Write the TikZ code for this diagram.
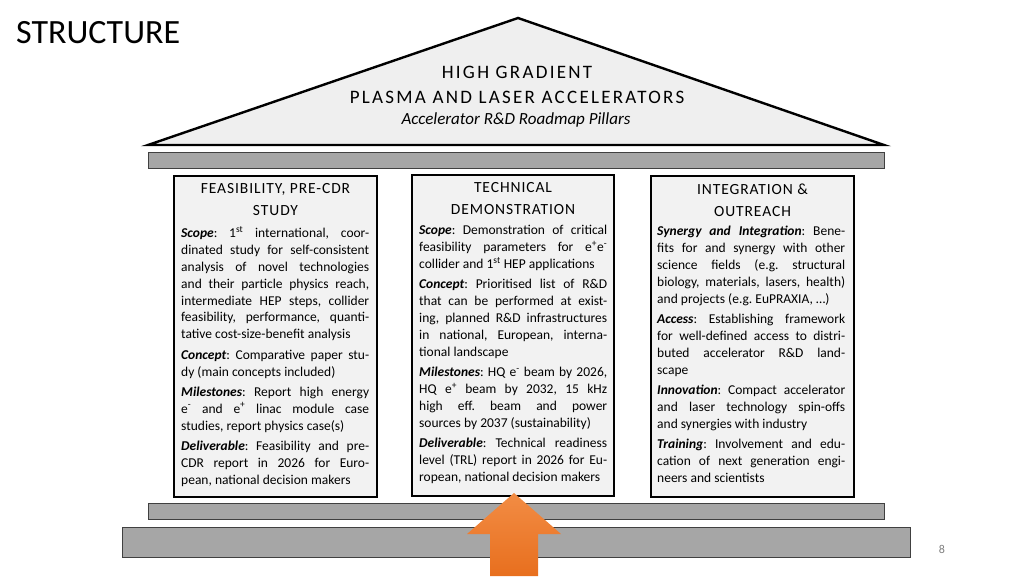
\documentclass[tikz,border=0pt]{standalone}
\usepackage{fontspec}
\setmainfont{Carlito}
\newfontfamily\deco[LetterSpace=6]{Carlito}
\newfontfamily\decoroof[LetterSpace=12]{Carlito}
\definecolor{beamgray}{HTML}{A6A6A6}
\definecolor{colfill}{HTML}{F2F2F2}
\definecolor{rooffill}{HTML}{EFEFEF}
\definecolor{arrowtop}{HTML}{F28C44}
\definecolor{arrowbot}{HTML}{E86F1E}
\newcommand{\np}{\par\vspace{3.4pt}}
\newcommand{\kw}[1]{\textbf{\textit{#1}}}
\newcommand{\bodyset}{\tolerance=10000 \hyphenpenalty=10000 \exhyphenpenalty=10000
  \rightskip=0pt \leftskip=0pt \parfillskip=0pt plus 1fil \parindent=0pt \frenchspacing
  \spaceskip=0.23em plus 0.6em minus 0.13em\relax}
\begin{document}
\begin{tikzpicture}[x=1pt,y=-1pt,
  beam/.style={draw=black!75, line width=0.9pt, fill=beamgray},
  pillar/.style={draw=black, line width=2pt, fill=colfill},
  head/.style={align=center, inner sep=0pt, font=\deco\fontsize{15.5}{22}\selectfont},
  rooftext/.style={align=center, inner sep=0pt, font=\decoroof\fontsize{19}{25}\selectfont},
  body/.style={anchor=north west, inner sep=0pt, text width=188pt,
    font=\fontsize{13.5}{16.9}\selectfont}
]
\useasboundingbox (0,0) rectangle (1024,576);
\fill[white] (0,0) rectangle (1024,576);

% title
\node[anchor=west, inner sep=0pt, font=\fontsize{34}{40}\selectfont] (title) at (16,33) {STRUCTURE};

% roof
\draw[line width=2.4pt, fill=rooffill, line join=miter] (148,145) -- (518,18) -- (884,145) -- cycle;
\node[rooftext] (roof1) at (517,72) {HIGH GRADIENT};
\node[rooftext] (roof2) at (517,97) {PLASMA AND LASER ACCELERATORS};
\node[inner sep=0pt, font=\fontsize{17}{20}\selectfont\itshape] (roof3) at (516,120) {Accelerator R\&D Roadmap Pillars};

% beams
\draw[beam] (148,152) rectangle (884,168);
\draw[beam] (148,503) rectangle (884,519);
\draw[beam] (122,527) rectangle (910,557);

% pillars
\draw[pillar] (174,176) rectangle (377,497);
\draw[pillar] (412,175) rectangle (614,496);
\draw[pillar] (651,176) rectangle (854,497);

% headings
\node[head] (h1) at (275.5,200) {FEASIBILITY, PRE-CDR\\STUDY};
\node[head] (h2) at (513,199) {TECHNICAL\\DEMONSTRATION};
\node[head] (h3) at (752.5,200) {INTEGRATION \&\\OUTREACH};

% bodies
\node[body] (b1) at (181,226) {\bodyset
\kw{Scope}: 1\textsuperscript{st} international, coor-\linebreak
dinated study for self-consistent\linebreak
analysis of novel technologies\linebreak
and their particle physics reach,\linebreak
intermediate HEP steps, collider\linebreak
feasibility, performance, quanti-\linebreak
tative cost-size-benefit analysis\np
\kw{Concept}: Comparative paper stu-\linebreak
dy (main concepts included)\np
\kw{Milestones}: Report high energy\linebreak
e\textsuperscript{-} and e\textsuperscript{+} linac module case\linebreak
studies, report physics case(s)\np
\kw{Deliverable}: Feasibility and pre-\linebreak
CDR report in 2026 for Euro-\linebreak
pean, national decision makers\par};

\node[body] (b2) at (419,225) {\bodyset
\kw{Scope}: Demonstration of critical\linebreak
feasibility parameters for e\textsuperscript{+}e\textsuperscript{-}\linebreak
collider and 1\textsuperscript{st} HEP applications\np
\kw{Concept}: Prioritised list of R\&D\linebreak
that can be performed at exist-\linebreak
ing, planned R\&D infrastructures\linebreak
in national, European, interna-\linebreak
tional landscape\np
\kw{Milestones}: HQ~e\textsuperscript{-}~beam by 2026,\linebreak
HQ e\textsuperscript{+} beam by 2032, 15 kHz\linebreak
high eff. beam and power\linebreak
sources by 2037 (sustainability)\np
\kw{Deliverable}: Technical readiness\linebreak
level (TRL) report in 2026 for Eu-\linebreak
ropean, national decision makers\par};

\node[body] (b3) at (657,226) {\bodyset
\kw{Synergy and Integration}: Bene-\linebreak
fits for and synergy with other\linebreak
science fields (e.g. structural\linebreak
biology, materials, lasers, health)\linebreak
and projects (e.g. EuPRAXIA, …)\np
\kw{Access}: Establishing framework\linebreak
for well-defined access to distri-\linebreak
buted accelerator R\&D land-\linebreak
scape\np
\kw{Innovation}: Compact accelerator\linebreak
and laser technology spin-offs\linebreak
and synergies with industry\np
\kw{Training}: Involvement and edu-\linebreak
cation of next generation engi-\linebreak
neers and scientists\par};

% arrow
\shade[top color=arrowtop, bottom color=arrowbot]
  (514,493) -- (561,534) -- (538,534) -- (538,576) -- (490,576) -- (490,534) -- (467,534) -- cycle;

% page number
\node[inner sep=0pt, text=black!50, font=\fontsize{12}{14}\selectfont] (pg) at (942,549) {8};
\end{tikzpicture}
\end{document}
